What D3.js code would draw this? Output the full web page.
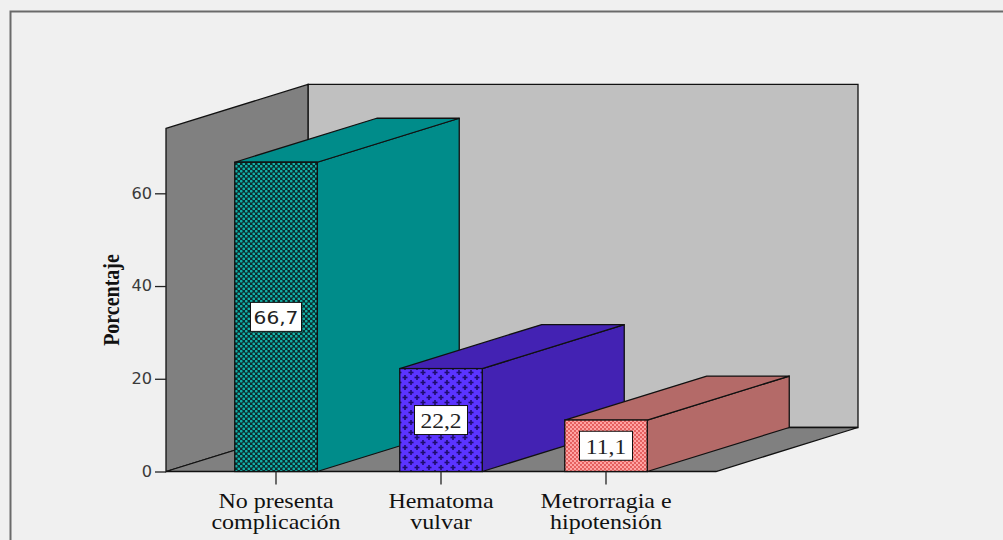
<!DOCTYPE html>
<html>
<head>
<meta charset="utf-8">
<script src="https://cdn.jsdelivr.net/npm/d3@7"></script>
<style>
  html, body { margin: 0; padding: 0; background: #f0f0f0; }
  svg { display: block; }
</style>
</head>
<body>
<svg id="chart" width="1003" height="540"></svg>
<script>
// Complicaciones: porcentaje de pacientes por categoría
const categories = ["No presenta complicación", "Hematoma vulvar", "Metrorragia e hipotensión"];
const categoryLines = [["No presenta", "complicación"], ["Hematoma", "vulvar"], ["Metrorragia e", "hipotensión"]];
const values = [66.7, 22.2, 11.1];
const yTicks = [0, 20, 40, 60];
const yMax = 74;

const esLocale = d3.formatLocale({ decimal: ",", thousands: ".", grouping: [3], currency: ["", "€"] });
const fmt = esLocale.format(".1f");

const svg = d3.select("#chart");
const defs = svg.append("defs");

// Fill patterns for the front faces
const p1 = defs.append("pattern").attr("id", "pat-teal").attr("patternUnits", "userSpaceOnUse")
  .attr("width", 5).attr("height", 5);
p1.append("rect").attr("width", 5).attr("height", 5).attr("fill", "#0b2e2e");
p1.append("circle").attr("cx", 1.25).attr("cy", 1.25).attr("r", 1.35).attr("fill", "#12b0a8");
p1.append("circle").attr("cx", 3.75).attr("cy", 3.75).attr("r", 1.35).attr("fill", "#12b0a8");

const p2 = defs.append("pattern").attr("id", "pat-violet").attr("patternUnits", "userSpaceOnUse")
  .attr("width", 12).attr("height", 10);
p2.append("rect").attr("width", 12).attr("height", 10).attr("fill", "#5b34ff");
[[3, 2.5], [9, 7.5]].forEach(([cx, cy]) => {
  p2.append("rect").attr("x", cx - 2.5).attr("y", cy - 0.8).attr("width", 5).attr("height", 1.6).attr("fill", "#1e0c6e");
  p2.append("rect").attr("x", cx - 0.8).attr("y", cy - 2.5).attr("width", 1.6).attr("height", 5).attr("fill", "#1e0c6e");
});

const p3 = defs.append("pattern").attr("id", "pat-pink").attr("patternUnits", "userSpaceOnUse")
  .attr("width", 4).attr("height", 4);
p3.append("rect").attr("width", 4).attr("height", 4).attr("fill", "#ffa3a3");
p3.append("circle").attr("cx", 1).attr("cy", 1).attr("r", 0.9).attr("fill", "#d9403f");
p3.append("circle").attr("cx", 3).attr("cy", 3).attr("r", 0.9).attr("fill", "#d9403f");

const barStyles = [
  { front: "url(#pat-teal)", side: "#008c8a", top: "#008c8a" },
  { front: "url(#pat-violet)", side: "#4322b3", top: "#4322b3" },
  { front: "url(#pat-pink)", side: "#b46a68", top: "#b46a68" }
];

// Outer frame
svg.append("rect").attr("x", 10.5).attr("y", 11.5).attr("width", 1100).attr("height", 600)
  .attr("fill", "#f0f0f0").attr("stroke", "#6a6a6a").attr("stroke-width", 2);

// Scales
const y = d3.scaleLinear().domain([0, yMax]).range([471.5, 128.4]);
const x = d3.scaleBand().domain(categories).range([166, 716]).paddingInner(0).paddingOuter(1 / 6);
const dx = 142, dy = -44;
const x0 = 166, x1 = 716;
const yb = y(0), yt = y(yMax);

const line = d3.line();
const stroke = "#111";
const sw = 1.3;

// Back wall
svg.append("path").attr("d", line([[x0 + dx, yt + dy], [x1 + dx, yt + dy], [x1 + dx, yb + dy], [x0 + dx, yb + dy]]) + "Z")
  .attr("fill", "#c0c0c0").attr("stroke", stroke).attr("stroke-width", sw);
// Left wall
svg.append("path").attr("d", line([[x0, yt], [x0 + dx, yt + dy], [x0 + dx, yb + dy], [x0, yb]]) + "Z")
  .attr("fill", "#808080").attr("stroke", stroke).attr("stroke-width", sw);
// Floor
svg.append("path").attr("d", line([[x0, yb], [x1, yb], [x1 + dx, yb + dy], [x0 + dx, yb + dy]]) + "Z")
  .attr("fill", "#808080").attr("stroke", stroke).attr("stroke-width", sw);

// Y axis
const yAxis = svg.append("g").attr("transform", `translate(${x0},0)`)
  .call(d3.axisLeft(y).tickValues(yTicks).tickSize(11).tickPadding(3).tickFormat(d3.format("d")));
yAxis.select(".domain").remove();
yAxis.selectAll(".tick line").attr("stroke", "#222").attr("stroke-width", 1.3);
yAxis.selectAll(".tick text")
  .attr("font-family", "'DejaVu Sans', Verdana, sans-serif").attr("font-size", 15).attr("fill", "#3a3a3a")
  .attr("x", 0).attr("dy", null).attr("dominant-baseline", "central")
  .attr("transform", "translate(-14,0) scale(1.08,1)");

// Y axis title
svg.append("text")
  .attr("transform", "translate(119,300) scale(1.12,1) rotate(-90)")
  .attr("text-anchor", "middle")
  .attr("font-family", "'Liberation Serif', 'Times New Roman', serif")
  .attr("font-weight", "bold").attr("font-size", 20).attr("fill", "#111")
  .text("Porcentaje");

// Bars, drawn left to right so later faces overlap earlier ones
const bw = x.bandwidth() * 0.5;
categories.forEach((c, i) => {
  const v = values[i];
  const bx = x(c) + x.bandwidth() * 0.25;
  const by = y(v);
  const st = barStyles[i];
  const g = svg.append("g");
  // side
  g.append("path").attr("d", line([[bx + bw, by], [bx + bw + dx, by + dy], [bx + bw + dx, yb + dy], [bx + bw, yb]]) + "Z")
    .attr("fill", st.side).attr("stroke", stroke).attr("stroke-width", sw).attr("stroke-linejoin", "round");
  // top
  g.append("path").attr("d", line([[bx, by], [bx + bw, by], [bx + bw + dx, by + dy], [bx + dx, by + dy]]) + "Z")
    .attr("fill", st.top).attr("stroke", stroke).attr("stroke-width", sw).attr("stroke-linejoin", "round");
  // front
  g.append("rect").attr("x", bx).attr("y", by).attr("width", bw).attr("height", yb - by)
    .attr("fill", st.front).attr("stroke", stroke).attr("stroke-width", sw);

  // value label
  const cx = bx + bw / 2, cy = (by + yb) / 2;
  const serif = i > 0;
  const lg = g.append("g").attr("transform", `translate(${cx},${cy})`);
  const boxW = serif ? 53 : 51, boxH = 29;
  lg.append("rect").attr("x", -boxW / 2).attr("y", -boxH / 2).attr("width", boxW).attr("height", boxH)
    .attr("fill", "#fff").attr("stroke", "#111").attr("stroke-width", 1);
  lg.append("text")
    .attr("transform", "translate(0,1) scale(1.12,1)")
    .attr("text-anchor", "middle").attr("dominant-baseline", "central")
    .attr("font-family", serif ? "'Liberation Serif', 'Times New Roman', serif" : "'DejaVu Sans', Verdana, sans-serif")
    .attr("font-size", serif ? 21 : 18).attr("fill", "#222")
    .text(fmt(v));
});

// X axis ticks
const xAxis = svg.append("g").attr("transform", `translate(0,${yb})`)
  .call(d3.axisBottom(x).tickSize(13).tickFormat(""));
xAxis.select(".domain").remove();
xAxis.selectAll(".tick line").attr("stroke", "#222").attr("stroke-width", 1.3);

// Category labels
categories.forEach((c, i) => {
  const t = svg.append("text")
    .attr("transform", `translate(${x(c) + x.bandwidth() / 2},508) scale(1.2,1)`)
    .attr("text-anchor", "middle")
    .attr("font-family", "'Liberation Serif', 'Times New Roman', serif")
    .attr("font-size", 20).attr("fill", "#111");
  categoryLines[i].forEach((ln, j) => {
    t.append("tspan").attr("x", 0).attr("y", j * 21).text(ln);
  });
});
</script>
</body>
</html>
